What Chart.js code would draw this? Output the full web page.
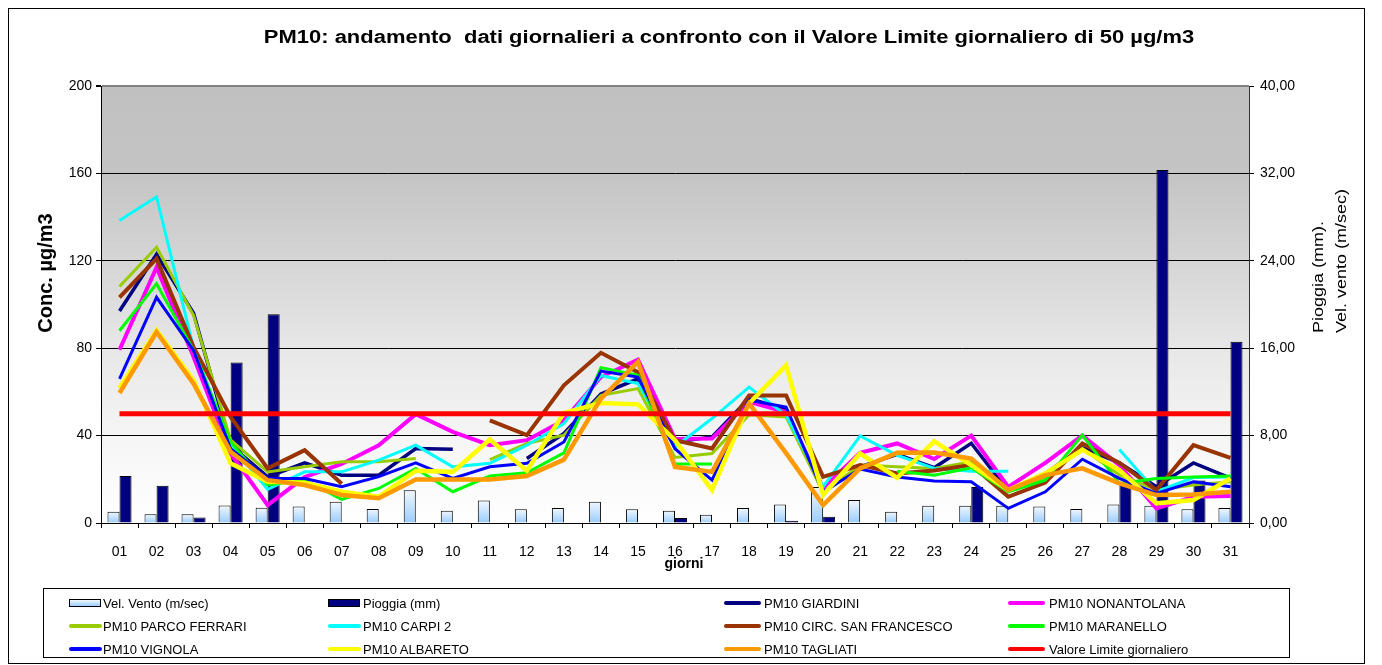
<!DOCTYPE html>
<html><head><meta charset="utf-8">
<script src="https://cdn.jsdelivr.net/npm/chart.js@4.4.1/dist/chart.umd.min.js"></script>
<style>
body{margin:0;background:#fff;font-family:"Liberation Sans",Arial,sans-serif;}
#wrap{position:relative;width:1382px;height:665px;overflow:hidden;background:#fff;}
#c{position:absolute;left:0;top:0;}
.frame{position:absolute;left:8px;top:8px;width:1357px;height:656px;border:1px solid #000;box-sizing:border-box;pointer-events:none;}
.t{position:absolute;white-space:pre;color:#000;}
#title{left:729px;top:37px;transform:translate(-50%,-50%) scaleX(1.22);font-weight:bold;font-size:18px;}
#ytitle{left:45px;top:273px;transform:translate(-50%,-50%) rotate(-90deg);font-weight:bold;font-size:20px;}
#y1title{left:1329px;top:333px;transform-origin:0 0;transform:rotate(-90deg) scaleX(1.2) translate(0,-50%);font-size:15px;line-height:23px;text-align:left;}
#xtitle{left:684px;top:563px;transform:translate(-50%,-50%);font-weight:bold;font-size:14px;}
#legend{position:absolute;left:43px;top:588px;width:1247px;height:70px;border:1px solid #000;box-sizing:border-box;}
.li{position:absolute;font-size:13px;white-space:pre;transform:translateY(-50%);}
.sym{position:absolute;transform:translateY(-50%);box-sizing:border-box;}
</style></head>
<body>
<div id="wrap">
<canvas id="c" width="1382" height="665"></canvas>
<div class="frame"></div>
<div class="t" id="title">PM10: andamento  dati giornalieri a confronto con il Valore Limite giornaliero di 50 µg/m3</div>
<div class="t" id="ytitle">Conc. µg/m3</div>
<div class="t" id="y1title">Pioggia (mm).
Vel. vento (m/sec)</div>
<div class="t" id="xtitle">giorni</div>
<div id="legend"></div>
</div>
<script>
const giorni = ['01','02','03','04','05','06','07','08','09','10','11','12','13','14','15','16','17','18','19','20','21','22','23','24','25','26','27','28','29','30','31'];
const velVento = [1.03,0.8,0.8,1.6,1.4,1.5,1.95,1.28,3.0,1.12,2.07,1.25,1.37,1.95,1.25,1.12,0.76,1.37,1.7,3.3,2.1,1.03,1.58,1.58,1.58,1.5,1.28,1.7,1.58,1.25,1.37];
const pioggia = [4.3,3.4,0.5,14.7,19.1,0,0,0,0,0,0,0,0,0,0,0.45,0,0,0.2,0.58,0,0,0,3.3,0,0,0,3.7,32.3,3.9,16.6];
const pm10Giardini = [97,123,96,35.6,21.1,27.5,21.9,21.9,34.1,33.8,null,29.5,41,59,66,37,39.4,57,52,14,25.7,31.4,25.3,36.5,14.5,22.7,34.5,27.5,16.6,27.5,20.5];
const pm10Nonantolana = [79.3,117,76,31.8,8.2,21,27,35.6,49.8,41.7,35.6,37.9,47,66.8,74.7,38.5,38.7,55.5,50.8,16,32.1,36.4,29.3,40,16.5,27.5,40,26.5,6.7,12,12.3];
const pm10ParcoFerrari = [108.2,126.2,95,38,23.4,25.7,28,28,29.5,null,29,36.4,40.2,58.4,61.5,30,31.8,49.5,48.5,14,26.5,25.7,25,28,15,21,34.1,22,15.1,17.4,18.9];
const pm10Carpi2 = [138.4,149.3,80,36,15.4,23.4,23.4,28.8,35.6,25.7,27.3,35.6,45.5,67.5,63.8,34.8,47.8,62.2,49.3,16.6,39.9,31,25,23.7,23.7,null,null,33.6,14.3,20.8,21];
const pm10CircSanFrancesco = [103.3,121,80.5,48.5,25,33.3,18,null,null,null,47,40.2,63,77.9,69,37.9,34.1,58.4,58.4,21.1,26.5,22.7,24,26.5,12,18.5,36.4,27.5,15.1,35.6,29.8];
const pm10Maranello = [88,109.5,79,37,17.4,19.6,10.8,15.8,25,14.3,21.5,23,32.1,71.1,67.6,27,27,null,null,null,null,23.7,21.9,25.3,14.3,19.6,40.2,18.1,20.4,21,21.5];
const pm10Vignola = [66,103.3,79,34,20.4,20.4,16.6,21.2,27.5,20.4,25.7,27.3,37.1,69.5,66.8,34,19.6,56.2,53.1,14.3,24.7,21.1,19.2,18.9,6.7,14.3,29.2,20.4,13.5,18.9,16.6];
const pm10Albareto = [61.8,88.1,65.3,27.3,18.9,18.4,14.3,12,23.9,23.4,38.2,23.9,50.4,54.9,54.3,37.9,15.1,54.7,72.1,12.8,31.8,20.7,37.4,26.5,15.1,22.7,33.5,24.2,9,10.5,20.4];
const pm10Tagliati = [59.5,87.4,63.8,32.6,19.6,17.4,12.8,11.3,19.9,19.9,19.9,21.5,29,56.9,73.7,25.7,23.4,54.7,32,8.2,25,32.1,32.3,29.5,15.1,21.9,25,18.1,12.8,13.1,14.3];
const valoreLimite = [50,50,50,50,50,50,50,50,50,50,50,50,50,50,50,50,50,50,50,50,50,50,50,50,50,50,50,50,50,50,50];
const yTicks = [0,40,80,120,160,200];
const y1Ticks = [0,8,16,24,32,40];

const FONT = '"Liberation Sans", Arial, sans-serif';

function windFill(ctx){
  const chart = ctx.chart;
  if (!chart.chartArea || ctx.type !== 'data' || !chart.scales.y1) return '#cfe6ff';
  const s = chart.scales.y1;
  const top = s.getPixelForValue(ctx.raw), bot = s.getPixelForValue(0);
  if (!isFinite(top) || top === bot) return '#cfe6ff';
  const g = chart.ctx.createLinearGradient(0, top, 0, bot);
  g.addColorStop(0, '#f2f8ff');
  g.addColorStop(1, '#99ccff');
  return g;
}

const lineDefs = [
  ['PM10 GIARDINI', pm10Giardini, '#000080', 3.5],
  ['PM10 NONANTOLANA', pm10Nonantolana, '#FF00FF', 4],
  ['PM10 PARCO FERRARI', pm10ParcoFerrari, '#99CC00', 3],
  ['PM10 CARPI 2', pm10Carpi2, '#00FFFF', 3],
  ['PM10 CIRC. SAN FRANCESCO', pm10CircSanFrancesco, '#993300', 4],
  ['PM10 MARANELLO', pm10Maranello, '#00FF00', 3],
  ['PM10 VIGNOLA', pm10Vignola, '#0000FF', 3],
  ['PM10 ALBARETO', pm10Albareto, '#FFFF00', 4.5],
  ['PM10 TAGLIATI', pm10Tagliati, '#FF9900', 4.5],
  ['Valore Limite giornaliero', valoreLimite, '#FF0000', 5]
];

const datasets = [
  {type:'bar', label:'Vel. Vento (m/sec)', data: velVento, yAxisID:'y1', backgroundColor: windFill,
   borderColor:'#000', borderWidth: c => (c.raw > 0 ? 1 : 0), order: 50, categoryPercentage:0.65, barPercentage:1.0},
  {type:'bar', label:'Pioggia (mm)', data: pioggia, yAxisID:'y1', backgroundColor:'#000080',
   borderColor:'#000', borderWidth: c => (c.raw > 0 ? 1 : 0), order: 50, categoryPercentage:0.65, barPercentage:1.0}
];
lineDefs.forEach((d, i) => {
  datasets.push({type:'line', label:d[0], data:d[1], yAxisID:'y', borderColor:d[2], backgroundColor:d[2],
    borderWidth:d[3], pointRadius:0, pointHoverRadius:0, tension:0, fill:false, spanGaps:false,
    borderJoinStyle:'miter', order: lineDefs.length - i});
});

const bgPlugin = {
  id:'bg',
  beforeDraw(chart){
    const {ctx, chartArea:a} = chart;
    const g = ctx.createLinearGradient(0, a.top, 0, a.bottom);
    g.addColorStop(0, '#c0c0c0');
    g.addColorStop(0.2, '#c4c4c4');
    g.addColorStop(0.4, '#d5d5d5');
    g.addColorStop(0.6, '#e7e7e7');
    g.addColorStop(0.8, '#f5f5f5');
    g.addColorStop(1, '#ffffff');
    ctx.save();
    ctx.fillStyle = g;
    ctx.fillRect(a.left, a.top, a.right - a.left, a.bottom - a.top);
    ctx.restore();
  }
};

new Chart(document.getElementById('c'), {
  data: {labels: giorni, datasets},
  options: {
    responsive:false, animation:false, devicePixelRatio:1,
    layout:{padding:{top:86, left:0, right:0, bottom:0}},
    plugins:{legend:{display:false}, tooltip:{enabled:false}, title:{display:false}},
    scales:{
      x:{
        offset:true,
        grid:{drawOnChartArea:false, drawTicks:true, tickLength:5, tickColor:'#000', offset:true},
        border:{color:'#000', width:1},
        ticks:{color:'#000', font:{family:FONT, size:14}, padding:16, maxRotation:0, autoSkip:false},
        afterFit: s => { s.height = 142; }
      },
      y:{
        position:'left', min:0, max:200,
        afterBuildTicks: s => { s.ticks = yTicks.map(v => ({value:v})); },
        ticks:{color:'#000', font:{family:FONT, size:14}, padding:4},
        grid:{color: c => (c.tick && c.tick.value === 200 ? '#808080' : '#000'),
              lineWidth: c => (c.tick && c.tick.value === 200 ? 2 : 1),
              tickLength:5, tickColor:'#000'},
        border:{color:'#000', width:1},
        afterFit: s => { s.width = 101; }
      },
      y1:{
        position:'right', min:0, max:40,
        afterBuildTicks: s => { s.ticks = y1Ticks.map(v => ({value:v})); },
        ticks:{color:'#000', font:{family:FONT, size:14}, padding:6,
               callback: v => Number(v).toFixed(2).replace('.', ',')},
        grid:{drawOnChartArea:false, tickLength:5, tickColor:'#000'},
        border:{color:'#333', width:1},
        afterFit: s => { s.width = 133; }
      }
    }
  },
  plugins:[bgPlugin]
});

// legend (4 columns x 3 rows, row-major like the original)
const legendItems = [
  {label:'Vel. Vento (m/sec)', kind:'wind'},
  {label:'Pioggia (mm)', kind:'rain'},
  {label:lineDefs[0][0], color:lineDefs[0][2]},
  {label:lineDefs[1][0], color:lineDefs[1][2]},
  {label:lineDefs[2][0], color:lineDefs[2][2]},
  {label:lineDefs[3][0], color:lineDefs[3][2]},
  {label:lineDefs[4][0], color:lineDefs[4][2]},
  {label:lineDefs[5][0], color:lineDefs[5][2]},
  {label:lineDefs[6][0], color:lineDefs[6][2]},
  {label:lineDefs[7][0], color:lineDefs[7][2]},
  {label:lineDefs[8][0], color:lineDefs[8][2]},
  {label:lineDefs[9][0], color:lineDefs[9][2]}
];
const colSym = [25, 284, 680, 964];
const colTxt = [59, 319, 720, 1005];
const rowY = [14, 37, 60];
const leg = document.getElementById('legend');
legendItems.forEach((it, i) => {
  const r = Math.floor(i / 4), c = i % 4;
  const s = document.createElement('div');
  s.className = 'sym';
  s.style.top = rowY[r] + 'px';
  if (it.kind === 'wind') {
    s.style.left = colSym[c] + 'px'; s.style.width = '32px'; s.style.height = '8px';
    s.style.border = '1px solid #000';
    s.style.background = 'linear-gradient(#f2f8ff,#99ccff)';
  } else if (it.kind === 'rain') {
    s.style.left = colSym[c] + 'px'; s.style.width = '32px'; s.style.height = '8px';
    s.style.border = '1px solid #000'; s.style.background = '#000080';
  } else {
    s.style.left = colSym[c] + 'px'; s.style.width = (c < 2 ? 33 : 37) + 'px'; s.style.height = '4px';
    s.style.background = it.color; s.style.borderRadius = '2px';
  }
  leg.appendChild(s);
  const t = document.createElement('div');
  t.className = 'li';
  t.style.left = colTxt[c] + 'px';
  t.style.top = rowY[r] + 'px';
  t.textContent = it.label;
  leg.appendChild(t);
});
</script>
</body></html>
